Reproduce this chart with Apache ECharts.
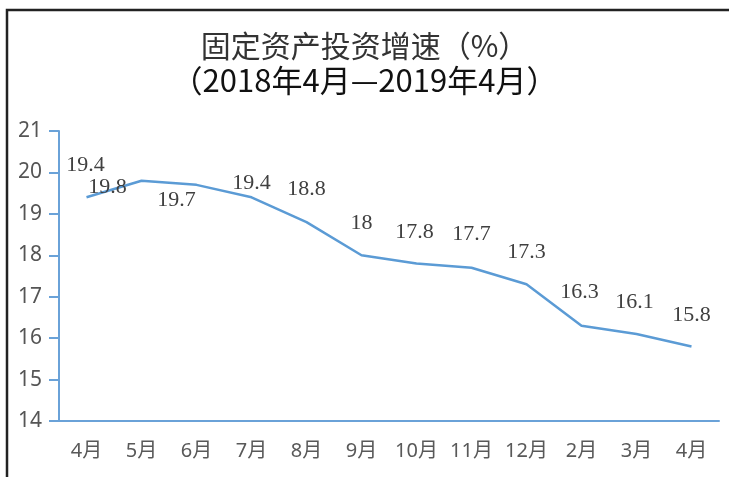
<!DOCTYPE html>
<html>
<head>
<meta charset="utf-8">
<script src="https://cdn.jsdelivr.net/npm/echarts@6/dist/echarts.min.js"></script>
<style>
html,body{margin:0;padding:0;background:#fff;}
#chart{width:729px;height:477px;}
</style>
</head>
<body>
<div id="chart"></div>
<script>
var titleLine1 = '固定资产投资增速（%）';
var titleLine2 = '（2018年4月—2019年4月）';
var categories = ['4月','5月','6月','7月','8月','9月','10月','11月','12月','2月','3月','4月'];
var growth = [19.4, 19.8, 19.7, 19.4, 18.8, 18, 17.8, 17.7, 17.3, 16.3, 16.1, 15.8];
var yTicks = [14, 15, 16, 17, 18, 19, 20, 21];

// label placement (style only)
var labelOffsets = [[-1,-32],[-34,7],[-20,15],[0,-14],[0,-33],[0,-32],[-2,-31],[0,-33],[0,-32],[-2,-33],[-2,-32],[0,-31]];

var chart = echarts.init(document.getElementById('chart'), null, {renderer:'canvas'});
var seriesData = growth.map(function(v, i){
  return {value: v, label: {offset: labelOffsets[i]}};
});
var option = {
  backgroundColor: '#fff',
  animation: false,
  title: [{
    text: titleLine1,
    left: 'center', top: 26,
    textStyle: {fontFamily: 'Noto Sans CJK SC', fontWeight: 'normal', fontSize: 30, color: '#333'}
  },{
    text: titleLine2,
    left: 'center', top: 60,
    textStyle: {fontFamily: 'Noto Sans CJK SC', fontWeight: 'normal', fontSize: 31, color: '#111'}
  }],
  grid: {left: 59, right: 10, top: 131, bottom: 56, containLabel: false},
  xAxis: {
    type: 'category',
    data: categories,
    boundaryGap: true,
    axisLine: {show: true, lineStyle: {color: '#6aa2d8', width: 2}},
    axisTick: {show: false},
    axisLabel: {margin: 20, fontSize: 20, color: '#595959', fontFamily: 'Noto Sans, Noto Sans CJK SC', interval: 0},
    splitLine: {show: false}
  },
  yAxis: {
    type: 'value',
    min: yTicks[0], max: yTicks[yTicks.length-1], interval: 1,
    axisLine: {show: true, lineStyle: {color: '#6aa2d8', width: 2}},
    axisTick: {show: true, inside: false, length: 10, lineStyle: {color: '#6aa2d8', width: 2}},
    axisLabel: {margin: 17, fontSize: 21, color: '#555', fontFamily: 'Noto Sans'},
    splitLine: {show: false}
  },
  series: [{
    type: 'line',
    data: seriesData,
    symbol: 'circle',
    symbolSize: 0,
    showSymbol: true,
    lineStyle: {color: '#5b9bd5', width: 2.5},
    itemStyle: {color: '#5b9bd5'},
    label: {
      show: true,
      position: 'inside',
      fontFamily: 'Liberation Serif',
      fontSize: 22,
      color: '#404040'
    }
  }],
  graphic: [{
    type: 'rect',
    shape: {x: 7, y: 10, width: 800, height: 600},
    style: {fill: null, stroke: '#222', lineWidth: 2.5},
    silent: true,
    z: 100
  }]
};
chart.setOption(option);
</script>
</body>
</html>
